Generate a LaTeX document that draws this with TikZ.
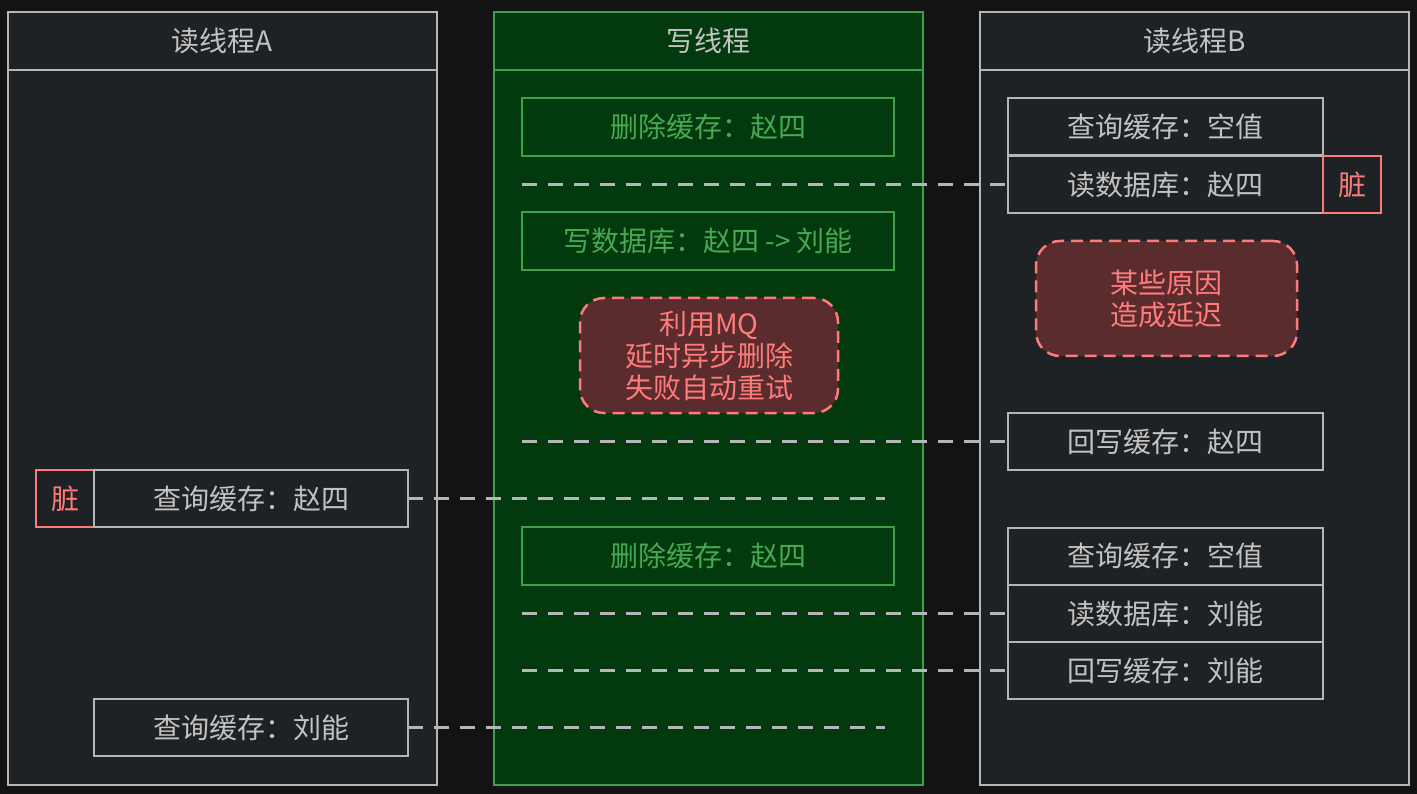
\documentclass[tikz,border=0pt]{standalone}
\usepackage{fontspec}
\setmainfont{Noto Sans CJK SC}
\definecolor{bg}{HTML}{131313}
\definecolor{pfill}{HTML}{1F2225}
\definecolor{pline}{HTML}{B4B6B8}
\definecolor{ptext}{HTML}{C2C2C2}
\definecolor{gfill}{HTML}{023A0E}
\definecolor{gline}{HTML}{3D9E4B}
\definecolor{gtext}{HTML}{48A853}
\definecolor{rline}{HTML}{FF7B7B}
\definecolor{rfill}{HTML}{5B2C2E}
\tikzset{
  base/.style={inner sep=0pt, outer sep=0pt, line width=2pt, font=\fontsize{28}{32}\selectfont, align=center},
  panel/.style={base, draw=pline, fill=pfill, text=ptext},
  wpanel/.style={base, draw=gline, fill=gfill, text=ptext},
  gbox/.style={base, draw=gline, fill=gfill, text=gtext, minimum width=372pt, minimum height=58pt},
  rbox/.style={base, draw=pline, fill=pfill, text=ptext, minimum width=315pt, minimum height=57pt},
  dirty/.style={base, draw=rline, fill=pfill, text=rline, minimum width=58pt, minimum height=57pt},
  note/.style={base, draw=rline, fill=rfill, text=rline, line width=2.5pt, dash pattern=on 12pt off 7pt, rounded corners=24pt},
  conn/.style={draw=pline, line width=3pt, dash pattern=on 15pt off 11pt}
}
\begin{document}
\begin{tikzpicture}[x=1pt,y=-1pt]
\fill[bg] (0,0) rectangle (1417,794);
\useasboundingbox (0,0) rectangle (1417,794);
% panels
\node[panel, minimum width=429pt, minimum height=715pt] (bodyA) at (222.5,427.5) {};
\node[panel, minimum width=429pt, minimum height=58pt] (headA) at (222.5,41) {读线程A};
\node[wpanel, minimum width=429pt, minimum height=715pt] (bodyW) at (708.5,427.5) {};
\node[wpanel, minimum width=429pt, minimum height=58pt] (headW) at (708.5,41) {写线程};
\node[panel, minimum width=429pt, minimum height=715pt] (bodyB) at (1194.5,427.5) {};
\node[panel, minimum width=429pt, minimum height=58pt] (headB) at (1194.5,41) {读线程B};
% write thread
\node[gbox] (w1) at (708,127) {删除缓存：赵四};
\node[gbox] (w2) at (708,241) {写数据库：赵四 -> 刘能};
\node[note, minimum width=258pt, minimum height=115pt] (mq) at (709,355.5) {利用MQ\\延时异步删除\\失败自动重试};
\node[gbox] (w3) at (708,556) {删除缓存：赵四};
% thread B
\node[rbox] (b1) at (1165.5,127) {查询缓存：空值};
\node[rbox] (b2) at (1165.5,184.5) {读数据库：赵四};
\node[dirty] (bd) at (1352,184.5) {脏};
\node[note, minimum width=261pt, minimum height=115pt] (delay) at (1166.5,298.5) {某些原因\\造成延迟};
\node[rbox] (b3) at (1165.5,441.5) {回写缓存：赵四};
\node[rbox] (b4) at (1165.5,556) {查询缓存：空值};
\node[rbox] (b5) at (1165.5,613.5) {读数据库：刘能};
\node[rbox] (b6) at (1165.5,670.5) {回写缓存：刘能};
% thread A
\node[dirty] (ad) at (65,498.5) {脏};
\node[rbox, minimum width=314pt] (a1) at (251,498.5) {查询缓存：赵四};
\node[rbox, minimum width=314pt] (a2) at (251,727.5) {查询缓存：刘能};
% connector ends
\coordinate (c1) at (522,184.5);
\coordinate (c2) at (522,441.5);
\coordinate (c3) at (885,498.5);
\coordinate (c4) at (522,613.5);
\coordinate (c5) at (522,670.5);
\coordinate (c6) at (885,727.5);
\draw[conn] (c1) -- (b2.west);
\draw[conn] (c2) -- (b3.west);
\draw[conn] (a1.east) -- (c3);
\draw[conn] (c4) -- (b5.west);
\draw[conn] (c5) -- (b6.west);
\draw[conn] (a2.east) -- (c6);
\end{tikzpicture}
\end{document}
